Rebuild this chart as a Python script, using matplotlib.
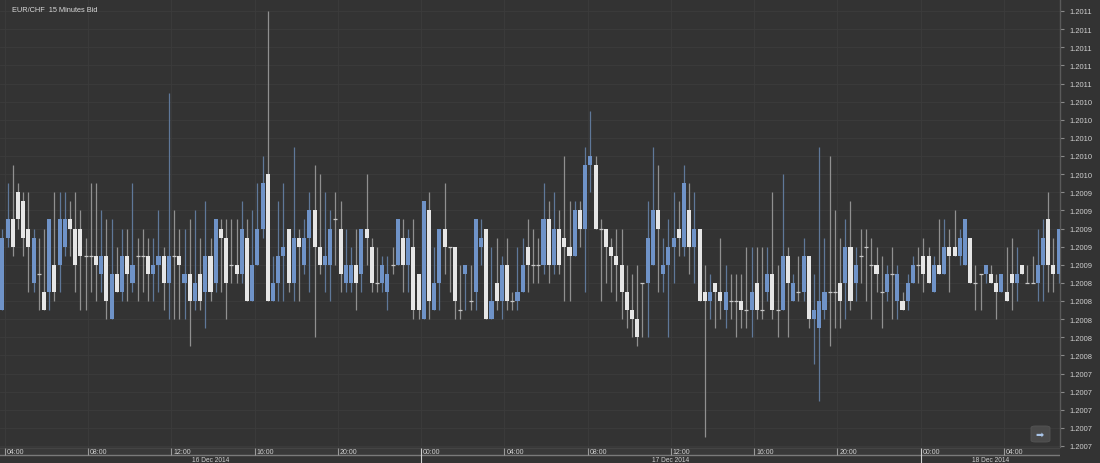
import matplotlib
matplotlib.use("Agg")
import matplotlib.pyplot as plt
from matplotlib.patches import FancyBboxPatch, Rectangle
import numpy as np
import pandas as pd

plt.rcParams["font.family"] = ["Liberation Sans", "DejaVu Sans"]

# ---------------- data (prices in units of 0.00001 above BASE) ----------------
BASE = 1.20060
PIP = 0.00001
start_time = "2014-12-16 03:45"
title = "EUR/CHF  15 Minutes Bid"

opens = [21,29,31,34,33,30,24,25,23,23,26,26,28,31,30,30,27,27,27,25,27,20,25,23,27,24,27,27,27,25,
         26,27,24,27,27,24,25,22,25,23,27,24,30,29,26,26,25,29,22,26,30,36,22,24,27,30,24,29,26,29,
         32,28,26,26,31,30,24,24,26,25,30,28,24,24,23,26,26,29,26,28,25,20,32,21,24,30,28,28,21,25,
         22,23,28,30,20,24,22,26,22,22,23,28,26,26,26,31,26,30,29,28,27,32,30,37,37,30,30,28,27,26,
         23,21,20,24,24,26,32,25,26,28,30,28,32,28,30,23,22,24,23,21,22,22,22,21,21,24,21,23,25,21,
         21,27,22,23,23,27,20,19,21,23,23,24,24,28,24,27,28,26,26,23,23,25,22,22,22,24,26,27,27,23,
         26,25,28,28,27,26,29,24,25,25,25,24,23,23,25,24,26,24,24,24,26,31,26,25]
highs = [30,35,37,35,34,34,30,29,30,31,34,34,34,33,34,32,29,35,35,32,31,31,28,30,30,35,29,30,29,29,
         32,28,45,32,30,30,31,32,29,33,29,31,31,31,31,31,33,31,32,35,38,54,27,33,35,30,39,30,31,34,
         37,36,34,32,34,33,30,28,30,30,36,29,28,27,27,28,31,31,30,31,25,33,34,28,30,35,28,28,26,26,
         26,31,31,30,28,29,27,29,23,28,29,31,30,29,35,33,34,32,38,33,33,33,39,43,38,31,30,29,30,30,
         26,25,26,24,33,39,37,29,31,34,33,37,35,34,30,26,25,24,29,26,25,25,25,28,28,28,28,28,34,26,
         36,28,25,27,29,27,25,39,29,38,32,29,31,33,28,30,30,29,28,27,26,28,26,23,25,27,28,29,28,27,
         31,31,30,32,30,31,29,26,25,26,26,25,25,28,29,28,26,26,27,30,31,34,29,30]
lows = [21,28,27,30,27,23,23,21,21,21,22,23,27,27,23,21,21,23,22,23,20,20,23,22,22,23,22,23,22,22,
        23,21,20,20,20,20,17,21,21,19,22,23,23,20,24,24,24,22,22,26,29,22,22,22,22,23,22,22,25,23,
        18,25,23,22,26,23,23,23,21,23,26,23,23,23,21,25,26,23,23,20,20,20,20,21,21,25,23,20,20,21,
        21,21,26,20,20,21,20,21,21,21,23,23,24,24,25,24,25,25,22,22,27,28,23,34,30,22,24,23,22,20,
        19,18,17,18,18,26,23,23,18,24,27,27,25,24,22,7,20,19,20,19,20,18,19,19,18,20,20,22,20,18,
        21,18,22,22,22,19,15,11,20,17,19,19,20,21,22,24,22,20,23,19,22,20,20,21,21,24,24,23,24,23,
        25,25,23,27,26,26,24,21,21,24,24,20,23,22,21,22,25,24,24,22,22,23,23,24]
closes = [29,31,28,31,29,28,29,25,21,31,23,31,31,30,26,27,27,27,26,27,22,25,23,27,25,26,27,27,25,26,
          27,24,27,27,26,25,22,24,22,27,23,31,29,24,26,25,30,22,26,30,35,22,24,27,28,24,29,28,29,32,
          28,26,27,30,31,25,26,26,24,30,29,24,24,26,25,26,31,26,29,21,21,33,22,24,30,28,28,22,21,26,
          22,31,29,20,22,22,26,22,22,23,26,26,26,26,31,26,30,26,28,27,32,30,37,38,30,30,28,27,26,23,
          21,20,18,24,29,32,30,26,28,29,29,35,28,30,22,22,23,23,22,23,22,22,21,21,23,21,21,25,21,21,
          27,24,24,23,27,20,21,22,23,23,23,22,28,22,26,27,28,26,25,23,25,25,25,21,24,26,26,25,24,26,
          25,28,27,27,29,31,24,24,25,26,24,23,25,22,24,25,25,24,24,26,29,26,25,30]

# ---------------- colours ----------------
BG = "#333333"
GRID = "#3c3c3c"
UP = "#6f93c8"
DOWN = "#e6e6e6"
UP_WICK = "#5f7899"
DOWN_WICK = "#909090"
DOJI = "#c8c8c8"
TXT = "#cfcfcf"

W, H = 1100, 464
fig = plt.figure(figsize=(W / 100, H / 100), dpi=100, facecolor=BG)

PX_SLOT = 5.203           # pixels per 15-minute slot
X0_PIX = 2.4              # pixel of first candle centre
PLOT_R = 1060
PLOT_B = 448

ax = fig.add_axes([0, (H - PLOT_B) / H, PLOT_R / W, PLOT_B / H])
ax.set_facecolor(BG)

o = BASE + np.array(opens) * PIP
h = BASE + np.array(highs) * PIP
l = BASE + np.array(lows) * PIP
c = BASE + np.array(closes) * PIP
n = len(o)
x = np.arange(n) + 0.5

xmin = 0.5 - X0_PIX / PX_SLOT
xmax = 0.5 + (PLOT_R - X0_PIX) / PX_SLOT
ax.set_xlim(xmin, xmax)

# y scale: 0.00002 per 18.125 px, 1.20114 at pixel 12
ppu = 18.125 / 0.00002
ytop = 1.20114 + 12 / ppu
ybot = 1.20114 - (PLOT_B - 12) / ppu
ax.set_ylim(ybot, ytop)

yticks = 1.20066 + 0.00002 * np.arange(25)
ax.set_yticks(yticks)
ax.set_yticklabels([f"{v:.4f}" for v in yticks])
ax.yaxis.tick_right()
ax.tick_params(axis="y", colors="#8a8a8a", labelcolor=TXT, labelsize=5.4,
               length=3, width=0.8, pad=3.5)
ax.set_xticks([])

times = pd.Timestamp(start_time) + pd.to_timedelta(np.arange(n + 1) * 15, unit="min")
tick_slots = [i for i in range(n + 1) if times[i].minute == 0 and times[i].hour % 4 == 0]

for yv in yticks:
    ax.axhline(yv, color=GRID, lw=0.6, zorder=0)
for s in tick_slots:
    ax.axvline(s, color=GRID, lw=0.6, zorder=0)

for sp in ["top", "left", "bottom"]:
    ax.spines[sp].set_visible(False)
ax.spines["right"].set_color("#5a5a5a")
ax.spines["right"].set_linewidth(1.0)

up = c > o
dn = c < o
dj = c == o

ax.vlines(x[up], l[up], h[up], color=UP_WICK, lw=0.9, zorder=2)
ax.vlines(x[~up], l[~up], h[~up], color=DOWN_WICK, lw=0.9, zorder=2)
bw = 0.78
ax.bar(x[up], (c - o)[up], bottom=o[up], width=bw, color=UP, lw=0, zorder=3)
ax.bar(x[dn], (o - c)[dn], bottom=c[dn], width=bw, color=DOWN, lw=0, zorder=3)
ax.hlines(o[dj], x[dj] - bw / 2, x[dj] + bw / 2, color=DOJI, lw=0.9, zorder=3)

# ---------------- bottom time axis ----------------
bax = fig.add_axes([0, 0, PLOT_R / W, (H - PLOT_B) / H])
bax.set_xlim(xmin, xmax)
bax.set_ylim(H, PLOT_B)
bax.axis("off")
bax.add_patch(Rectangle((xmin, PLOT_B), xmax - xmin, 8, color="#393939", lw=0))
bax.axhline(PLOT_B + 0.5, color="#444444", lw=0.8)
bax.axhline(PLOT_B + 8.3, color="#7a7a7a", lw=1.0)
for s in tick_slots:
    t = times[s]
    midnight = t.hour == 0
    bax.vlines(s, PLOT_B + 1, H if midnight else PLOT_B + 8,
               color="#d0d0d0" if midnight else "#9a9a9a", lw=0.8)
    bax.text(s + 0.35, PLOT_B + 4.6, t.strftime("%H:%M"), color=TXT, fontsize=5.0,
             va="center", ha="left")

# day labels
days = pd.date_range(pd.Timestamp(start_time).normalize(), times[-1].normalize(), freq="D")
for d in days:
    s0 = max(xmin, (d - pd.Timestamp(start_time)) / pd.Timedelta(minutes=15))
    s1 = min(xmax, (d + pd.Timedelta(days=1) - pd.Timestamp(start_time)) / pd.Timedelta(minutes=15))
    bax.text((s0 + s1) / 2, PLOT_B + 12.4, d.strftime("%d Dec %Y").lstrip("0"), color=TXT,
             fontsize=4.8, ha="center", va="center")

# title
fig.text(12 / W, 1 - 10 / H, title, color="#d8d8d8", fontsize=5.3, ha="left", va="center")

# scroll button
btn = FancyBboxPatch((1031 / W, 1 - 443 / H), 19 / W, 16 / H,
                     boxstyle="round,pad=0,rounding_size=0.004", transform=fig.transFigure,
                     facecolor="#4a4a4a", edgecolor="#555555", lw=0.6)
fig.patches.append(btn)
fig.text(1040 / W, 1 - 435 / H, "\u27a1", color="#a9c4e8", fontsize=7,
         family="DejaVu Sans", ha="center", va="center")

fig.savefig("out.png", dpi=100, facecolor=BG)
